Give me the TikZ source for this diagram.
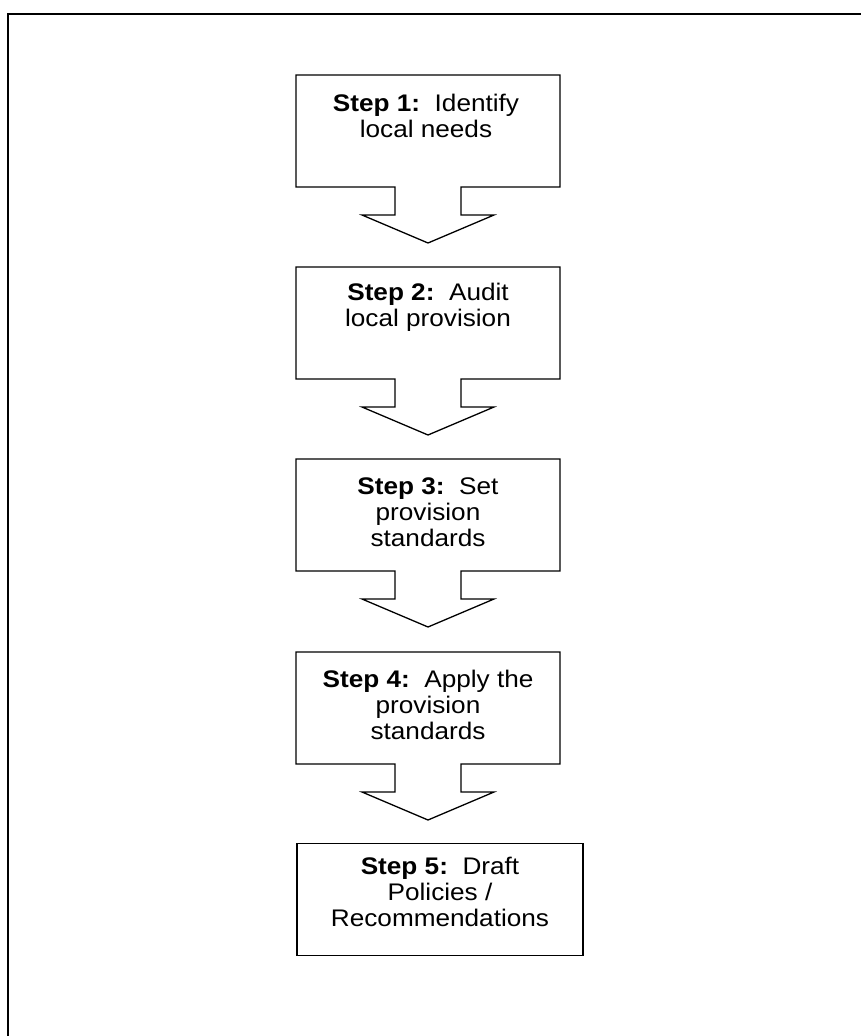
\documentclass[tikz,border=0pt]{standalone}
\usepackage{fontspec}
\setmainfont{Liberation Sans}[FakeStretch=1.09]
\begin{document}
\begin{tikzpicture}[x=1pt,y=-1pt,
  outline/.style={draw=black,line width=1.3pt,line join=miter},
  frame/.style={draw=black,line width=2pt},
  steptext/.style={anchor=north,inner sep=0pt,align=center,
    font=\fontsize{24}{26}\selectfont},
  callout/.pic={\draw[outline] (-132,0) -- (132,0) -- (132,112) -- (33,112)
      -- (33,140) -- (66,140) -- (0,168) -- (-66,140) -- (-33,140)
      -- (-33,112) -- (-132,112) -- cycle;}]
\useasboundingbox (0,0) rectangle (861,1036);
\draw[frame] (8,1036) -- (8,14) -- (861,14);

\pic at (428,75) {callout};
\pic at (428,267) {callout};
\pic at (428,459) {callout};
\pic at (428,652) {callout};
\node[outline,minimum width=286pt,minimum height=112pt,inner sep=0pt,anchor=north] (box5) at (440,843) {};

\node[steptext] (t1) at (426,94) {\textbf{Step 1:}\ \ Identify\\local needs};
\node[steptext] (t2) at (428,283) {\textbf{Step 2:}\ \ Audit\\local provision};
\node[steptext] (t3) at (428,478) {\textbf{Step 3:}\ \ Set\\provision\\standards};
\node[steptext] (t4) at (428,670) {\textbf{Step 4:}\ \ Apply the\\provision\\standards};
\node[steptext] (t5) at (440,857) {\textbf{Step 5:}\ \ Draft\\Policies /\\Recommendations};
\end{tikzpicture}
\end{document}
